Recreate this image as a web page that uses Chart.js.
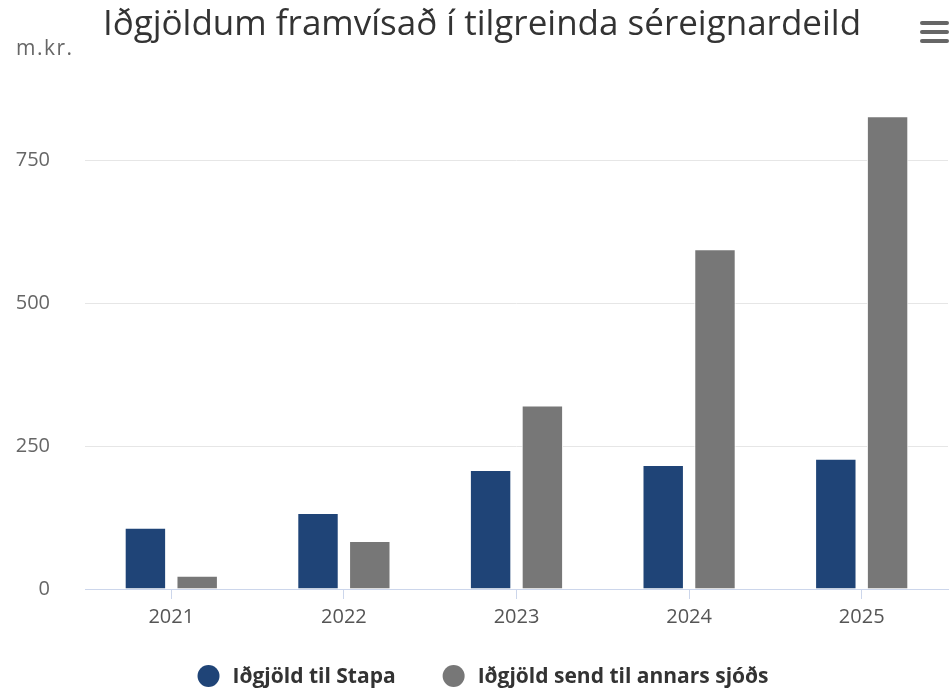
<!DOCTYPE html>
<html>
<head>
<meta charset="utf-8">
<script src="https://cdn.jsdelivr.net/npm/chart.js@4.4.1/dist/chart.umd.min.js"></script>
<style>
html,body{margin:0;padding:0;background:#fff;}
#wrap{position:relative;width:951px;height:693px;}
</style>
</head>
<body>
<div id="wrap"><canvas id="c" width="951" height="693"></canvas></div>
<script>
const titleText = "Iðgjöldum framvísað í tilgreinda séreignardeild";
const yUnit = "m.kr.";
const categories = ["2021", "2022", "2023", "2024", "2025"];
const seriesNames = ["Iðgjöld til Stapa", "Iðgjöld send til annars sjóðs"];
const stapa = [107, 133, 208, 217, 228];
const annars = [23, 84, 321, 594, 827];
const yTicks = [0, 250, 500, 750];
const seriesColors = ['#1f4477', '#777777'];

const FONT = "'Open Sans', 'DejaVu Sans', sans-serif";

const extras = {
  id: 'extras',
  afterDraw(chart) {
    const ctx = chart.ctx;
    ctx.save();
    // unit label
    ctx.fillStyle = '#666666';
    ctx.font = "21px " + FONT;
    ctx.letterSpacing = '1.5px';
    ctx.textAlign = 'left';
    ctx.textBaseline = 'alphabetic';
    ctx.fillText(yUnit, 16, 55);
    ctx.letterSpacing = '0px';
    // hamburger
    ctx.strokeStyle = '#666666';
    ctx.lineWidth = 4;
    ctx.lineCap = 'round';
    [23, 32, 41].forEach(y => {
      ctx.beginPath(); ctx.moveTo(922, y); ctx.lineTo(947, y); ctx.stroke();
    });
    // legend
    ctx.font = "bold 21px " + FONT;
    ctx.textBaseline = 'middle';
    const r = 11, gapBox = 13, gapItem = 47, cy = 676;
    const items = chart.data.datasets.map(d => ({ text: d.label, color: d.backgroundColor, w: ctx.measureText(d.label).width }));
    let total = 0;
    items.forEach((it, i) => { total += 2 * r + gapBox + it.w + (i ? gapItem : 0); });
    let x = 483 - total / 2;
    items.forEach((it, i) => {
      if (i) x += gapItem;
      ctx.fillStyle = it.color;
      ctx.beginPath(); ctx.arc(x + r, cy, r, 0, Math.PI * 2); ctx.fill();
      x += 2 * r + gapBox;
      ctx.fillStyle = '#333333';
      ctx.fillText(it.text, x, cy + 1);
      x += it.w;
    });
    ctx.restore();
  }
};

new Chart(document.getElementById('c'), {
  type: 'bar',
  data: {
    labels: categories,
    datasets: [
      { label: seriesNames[0], data: stapa, backgroundColor: seriesColors[0], borderColor: '#ffffff', borderWidth: 1, categoryPercentage: 0.6, barPercentage: 0.8 },
      { label: seriesNames[1], data: annars, backgroundColor: seriesColors[1], borderColor: '#ffffff', borderWidth: 1, categoryPercentage: 0.6, barPercentage: 0.8 }
    ]
  },
  options: {
    responsive: false,
    animation: false,
    layout: { padding: { left: 16, right: 3, top: 0, bottom: 58 } },
    plugins: {
      title: {
        display: true, text: titleText, color: '#333333',
        font: { family: FONT, size: 35, weight: 'normal' },
        padding: { top: 4, bottom: 57 }
      },
      legend: { display: false },
      tooltip: { enabled: false }
    },
    scales: {
      x: {
        grid: { drawOnChartArea: false, drawTicks: true, tickLength: 10, color: '#ccd6eb', offset: false },
        border: { display: true, color: '#ccd6eb', width: 1 },
        ticks: { color: '#555555', font: { family: FONT, size: 20 }, padding: 6 }
      },
      y: {
        min: 0, max: 850,
        afterBuildTicks(axis) { axis.ticks = yTicks.map(v => ({ value: v })); },
        afterFit(scale) { scale.width = 69; },
        grid: { color: '#e6e6e6', drawTicks: false },
        border: { display: false },
        ticks: { color: '#666666', font: { family: FONT, size: 20 }, padding: 35 }
      }
    }
  },
  plugins: [extras]
});
</script>
</body>
</html>
